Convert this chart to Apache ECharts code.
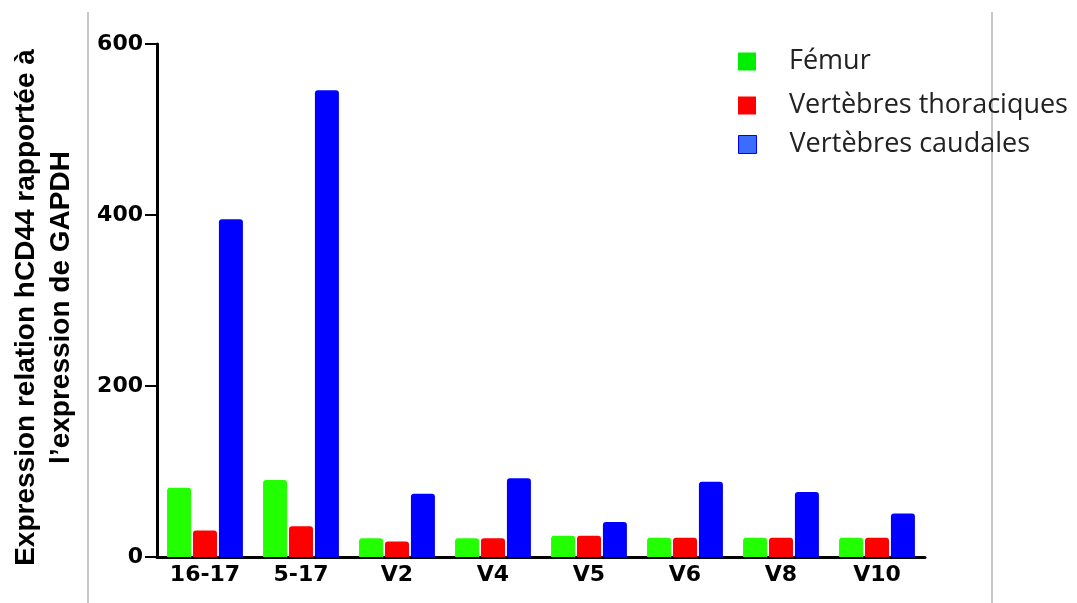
<!DOCTYPE html>
<html>
<head>
<meta charset="utf-8">
<script src="https://cdn.jsdelivr.net/npm/echarts@6/dist/echarts.min.js"></script>
<style>html,body{margin:0;padding:0;background:#fff;}#c{width:1077px;height:603px;}</style>
</head>
<body>
<div id="c"></div>
<script>
const categories = ['16-17', '5-17', 'V2', 'V4', 'V5', 'V6', 'V8', 'V10'];
const femur = [81, 90, 22, 22, 25, 22.5, 22.5, 22.5];
const thoraciques = [31, 36, 18, 22, 25, 22.5, 22.5, 22.5];
const caudales = [395, 546, 74, 92, 41, 88, 76, 51];
const seriesNames = ['Fémur', 'Vertèbres thoraciques', 'Vertèbres caudales'];
const yTicks = [0, 200, 400, 600];

const chart = echarts.init(document.getElementById('c'), null, {renderer: 'canvas'});
const legendText = {fontFamily: 'Open Sans', fontSize: 27, color: '#222', padding: [0, 0, 10, 28]};
function mkLegend(name, top, style) {
  return {
    top: top, left: 738, orient: 'vertical', itemWidth: 18, itemHeight: 18,
    icon: 'rect', selectedMode: false, padding: 0,
    textStyle: legendText,
    data: [{name: name, itemStyle: style}]
  };
}
chart.setOption({
  animation: false,
  backgroundColor: '#fff',
  graphic: [
    {type: 'line', shape: {x1: 88, y1: 12, x2: 88, y2: 603}, style: {stroke: '#c8c8c8', lineWidth: 2}},
    {type: 'line', shape: {x1: 992, y1: 12, x2: 992, y2: 603}, style: {stroke: '#c8c8c8', lineWidth: 2}}
  ],
  legend: [
    mkLegend(seriesNames[0], 48, {color: '#00ee00', borderWidth: 0}),
    mkLegend(seriesNames[1], 92, {color: '#ff0000', borderWidth: 0}),
    mkLegend(seriesNames[2], 131, {color: '#3a6cff', borderColor: '#0000ff', borderWidth: 1})
  ],
  grid: {left: 157, right: 152, top: 44, bottom: 46, containLabel: false, outerBoundsMode: 'none'},
  xAxis: {
    type: 'category', data: categories,
    axisLine: {lineStyle: {color: '#000', width: 3}},
    axisTick: {show: false},
    axisLabel: {fontFamily: 'DejaVu Sans', fontWeight: 'bold', fontSize: 22, color: '#000', margin: 7}
  },
  yAxis: {
    type: 'value', min: yTicks[0], max: yTicks[yTicks.length - 1], interval: 200,
    name: 'Expression relation hCD44 rapportée à\nl’expression de GAPDH',
    nameLocation: 'middle', nameGap: 78, nameRotate: 90,
    nameTextStyle: {fontFamily: 'Liberation Sans', fontWeight: 'bold', fontSize: 28, color: '#000', lineHeight: 35, padding: [0, 14, 0, 0]},
    splitLine: {show: false},
    axisLine: {show: true, lineStyle: {color: '#000', width: 3}},
    axisTick: {show: true, length: 12, lineStyle: {color: '#000', width: 2}},
    axisLabel: {fontFamily: 'DejaVu Sans', fontWeight: 'bold', fontSize: 22, color: '#000', margin: 14}
  },
  series: [
    {name: seriesNames[0], type: 'bar', data: femur, barWidth: 24, barGap: '8%',
     itemStyle: {color: '#22ff00', borderRadius: [3, 3, 0, 0]}},
    {name: seriesNames[1], type: 'bar', data: thoraciques, barWidth: 24, barGap: '8%',
     itemStyle: {color: '#ff0000', borderRadius: [3, 3, 0, 0]}},
    {name: seriesNames[2], type: 'bar', data: caudales, barWidth: 24, barGap: '8%',
     itemStyle: {color: '#0000ff', borderRadius: [3, 3, 0, 0]}}
  ]
});
</script>
</body>
</html>
